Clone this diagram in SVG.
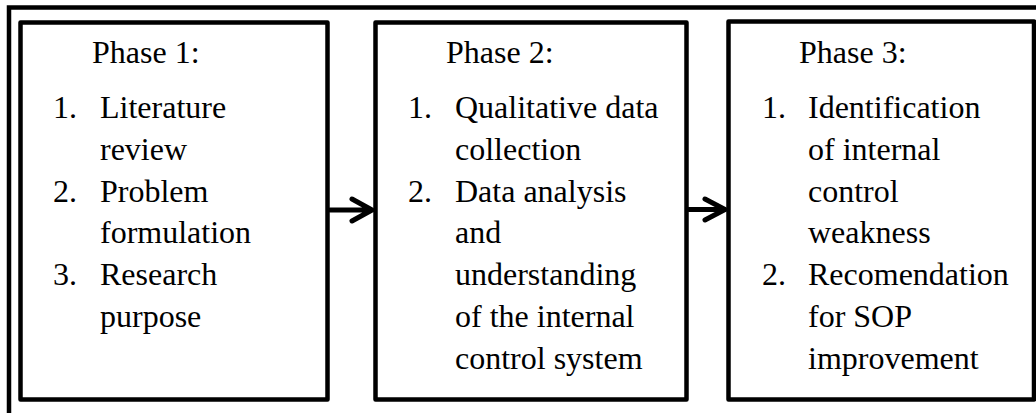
<svg xmlns="http://www.w3.org/2000/svg" width="1036" height="413" viewBox="0 0 1036 413" font-family="'Liberation Serif', 'Times New Roman', 'DejaVu Serif', serif">
<style>
.frame{fill:none;stroke:#000;stroke-width:4.5}
.box{fill:#fff;stroke:#000;stroke-width:4.5;stroke-linejoin:round}
.conn{fill:none;stroke:#000;stroke-width:5;stroke-linecap:round;stroke-linejoin:round}
.t{font-family:'Liberation Serif', serif;font-size:32px;fill:#000}
</style>
<rect width="1036" height="413" fill="#fff"/>
<path class="frame" d="M9,413 V7.5 H1036"/>
<g id="phase1">
<rect class="box" x="20.5" y="22.5" width="307" height="377"/>
<text class="t" x="92" y="63">Phase 1:</text>
<text class="t" x="53" y="118">1.</text><text class="t" x="100" y="118">Literature</text>
<text class="t" x="100" y="160">review</text>
<text class="t" x="53" y="202">2.</text><text class="t" x="100" y="202">Problem</text>
<text class="t" x="100" y="243">formulation</text>
<text class="t" x="53" y="285">3.</text><text class="t" x="100" y="285">Research</text>
<text class="t" x="100" y="327">purpose</text>
</g>
<g id="phase2">
<rect class="box" x="375.5" y="22.5" width="311" height="377"/>
<text class="t" x="446" y="63">Phase 2:</text>
<text class="t" x="408" y="118">1.</text><text class="t" x="455" y="118">Qualitative data</text>
<text class="t" x="455" y="160">collection</text>
<text class="t" x="408" y="202">2.</text><text class="t" x="455" y="202">Data analysis</text>
<text class="t" x="455" y="243">and</text>
<text class="t" x="455" y="285">understanding</text>
<text class="t" x="455" y="327">of the internal</text>
<text class="t" x="455" y="369">control system</text>
</g>
<g id="phase3">
<rect class="box" x="728.5" y="21.5" width="305.5" height="378"/>
<text class="t" x="799" y="63">Phase 3:</text>
<text class="t" x="762" y="118">1.</text><text class="t" x="808" y="118">Identification</text>
<text class="t" x="808" y="160">of internal</text>
<text class="t" x="808" y="202">control</text>
<text class="t" x="808" y="243">weakness</text>
<text class="t" x="762" y="285">2.</text><text class="t" x="808" y="285">Recomendation</text>
<text class="t" x="808" y="327">for SOP</text>
<text class="t" x="808" y="369">improvement</text>
</g>
<g id="connectors">
<path class="conn" d="M330,210 H372 M352,199 L372,210 L352,221"/>
<path class="conn" d="M689,209.5 H725 M705,199 L725,209.5 L705,220"/>
</g>
</svg>
